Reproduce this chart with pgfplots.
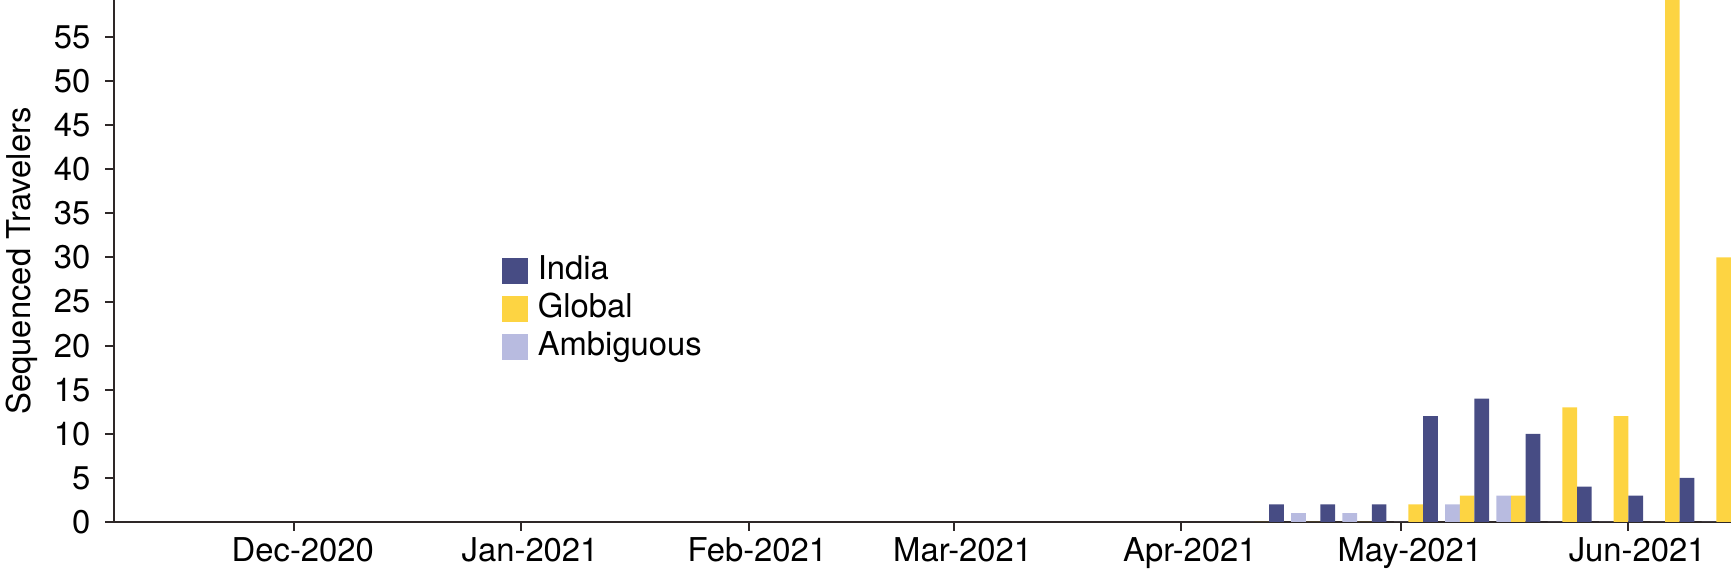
\documentclass[border=0pt]{standalone}
\usepackage{fontspec}
\setmainfont{TeX Gyre Heros}
\usepackage{pgfplots}
\pgfplotsset{compat=1.18}

\definecolor{india}{HTML}{474C84}
\definecolor{global}{HTML}{FDD442}
\definecolor{ambig}{HTML}{B8BBE0}
\definecolor{axisdark}{HTML}{2E2828}

% x = days since 1 Dec 2020, one group per week
\begin{document}
\begin{tikzpicture}
\begin{axis}[
    scale only axis,
    width=404.25pt, height=130.5pt,
    xmin=-24.55, xmax=196,
    ymin=0, ymax=59.2,
    axis x line=bottom, axis y line=left,
    axis line style={-, line width=0.5pt, draw=axisdark},
    tick style={line width=0.5pt, draw=axisdark},
    tick align=outside,
    major tick length=2.2pt,
    ybar=0pt, bar width=3.667pt,
    legend image code/.code={\fill[#1] (0pt,-3.2pt) rectangle (6.5pt,3.2pt);},
    xtick={0,31,62,90,121,151,182},
    xticklabels={Dec-2020,Jan-2021,Feb-2021,Mar-2021,Apr-2021,May-2021,Jun-2021},
    ytick={0,5,...,55},
    /pgf/number format/assume math mode=true,
    tick label style={font=\fontsize{8.2}{10}\selectfont, inner sep=0pt},
    xticklabel style={anchor=north, yshift=-1.5pt, xshift=2.2pt},
    yticklabel style={anchor=east, xshift=-3.5pt},
    ylabel={Sequenced Travelers},
    every axis y label/.style={at={(axis description cs:-0.0674,0.5)}, rotate=90, anchor=north, inner sep=0pt, font=\fontsize{8.2}{10}\selectfont},
    legend style={at={(rel axis cs:0.2319,0.527)}, anchor=north west, draw=none, fill=none,
        font=\fontsize{8.2}{10}\selectfont, row sep=1.7pt, column sep=2.5pt,
        nodes={inner sep=0pt, text height=6pt, text depth=1.8pt}},
    legend cell align=left,
    reverse legend,
]
\addplot[fill=ambig, draw=none] coordinates {
    (132,0) (139,1) (146,1) (153,0) (160,2) (167,3) (174,0) (181,0) (188,0) (195,0)
};
\addplot[fill=global, draw=none] coordinates {
    (132,0) (139,0) (146,0) (153,2) (160,3) (167,3) (174,13) (181,12) (188,62) (195,30)
};
\addplot[fill=india, draw=none] coordinates {
    (132,2) (139,2) (146,2) (153,12) (160,14) (167,10) (174,4) (181,3) (188,5)
};
\legend{Ambiguous, Global, India}
\coordinate (ll) at (rel axis cs:0,0);
\coordinate (ur) at (rel axis cs:1,1);
\end{axis}
\pgfresetboundingbox
\useasboundingbox ([xshift=-28.5pt,yshift=-13.5pt]ll) rectangle (ur);
\end{tikzpicture}
\end{document}
